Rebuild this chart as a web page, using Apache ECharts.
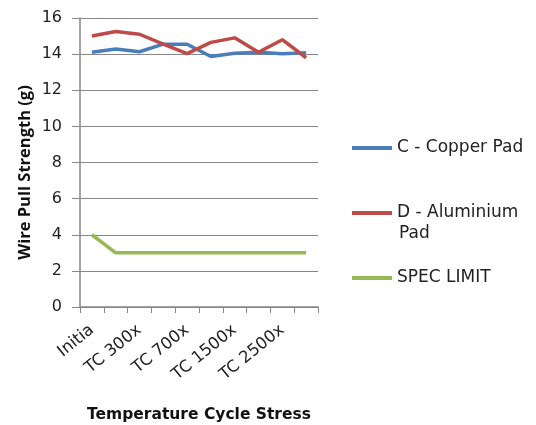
<!DOCTYPE html>
<html><head><meta charset="utf-8">
<script src="https://cdn.jsdelivr.net/npm/echarts@6/dist/echarts.min.js"></script>
<style>html,body{margin:0;padding:0;background:#fff}#c{width:536px;height:425px}</style>
</head><body><div id="c"></div>
<script>
const categories = ['Initial','TC 100x','TC 300x','TC 500x','TC 700x','TC 1000x','TC 1500x','TC 2000x','TC 2500x','TC 3000x'];
const copperPad = [14.1,14.28,14.13,14.55,14.55,13.87,14.05,14.1,14.02,14.08];
const aluminiumPad = [15.0,15.25,15.1,14.55,14.03,14.65,14.9,14.1,14.8,13.8];
const specLimit = [4,3,3,3,3,3,3,3,3,3];
const yTicks = {min:0,max:16,interval:2};
const HFONT = 'DejaVu Sans';
const chart = echarts.init(document.getElementById('c'));
const legendText = {fontFamily:HFONT,fontSize:17,color:'#222',lineHeight:20};
const legendCommon = {left:347,itemWidth:40,itemHeight:4,icon:'rect',textStyle:legendText,itemGap:0};
chart.setOption({
  animation:false,
  textStyle:{fontFamily:HFONT},
  grid:{left:80,right:218,top:18,bottom:118,containLabel:false,outerBoundsMode:'none'},
  xAxis:{type:'category',data:categories,boundaryGap:true,
    name:'Temperature Cycle Stress',nameLocation:'middle',nameGap:100,
    nameTextStyle:{fontFamily:HFONT,fontWeight:'bold',fontSize:15.5,color:'#111'},
    axisLine:{lineStyle:{color:'#868686',width:1.5}},
    axisTick:{show:true,alignWithLabel:false,interval:0,length:6,lineStyle:{color:'#868686'}},
    axisLabel:{interval:1,rotate:39,fontSize:16.5,color:'#222',margin:21,fontFamily:HFONT,
      formatter:v=>v==='Initial'?'Initia':v}
  },
  yAxis:{type:'value',min:yTicks.min,max:yTicks.max,interval:yTicks.interval,
    name:'Wire Pull Strength (g)',nameLocation:'middle',nameGap:46,
    nameTextStyle:{fontFamily:'Open Sans',fontWeight:'bold',fontSize:16.5,color:'#111',padding:[0,20,0,0]},
    axisLine:{show:true,lineStyle:{color:'#868686',width:1.5}},
    axisTick:{show:true,length:8,lineStyle:{color:'#868686'}},
    axisLabel:{fontSize:16,color:'#222',margin:18,fontFamily:HFONT},
    splitLine:{lineStyle:{color:'#868686',width:1}}
  },
  legend:[
    Object.assign({data:['C - Copper Pad'],top:133},legendCommon),
    Object.assign({data:['D - Aluminium Pad'],top:198,formatter:()=>'D - Aluminium'},legendCommon),
    Object.assign({data:['SPEC LIMIT'],top:263},legendCommon)
  ],
  graphic:[{type:'text',left:399,top:225,style:{text:'Pad',font:'17px "DejaVu Sans"',fill:'#222'}}],
  series:[
    {name:'C - Copper Pad',type:'line',data:copperPad,symbol:'none',lineStyle:{width:3.5,color:'#4A7EBB'},itemStyle:{color:'#4A7EBB'}},
    {name:'D - Aluminium Pad',type:'line',data:aluminiumPad,symbol:'none',lineStyle:{width:3.5,color:'#BE4B48'},itemStyle:{color:'#BE4B48'}},
    {name:'SPEC LIMIT',type:'line',data:specLimit,symbol:'none',lineStyle:{width:3.5,color:'#98B954'},itemStyle:{color:'#98B954'}}
  ]
});
</script></body></html>
